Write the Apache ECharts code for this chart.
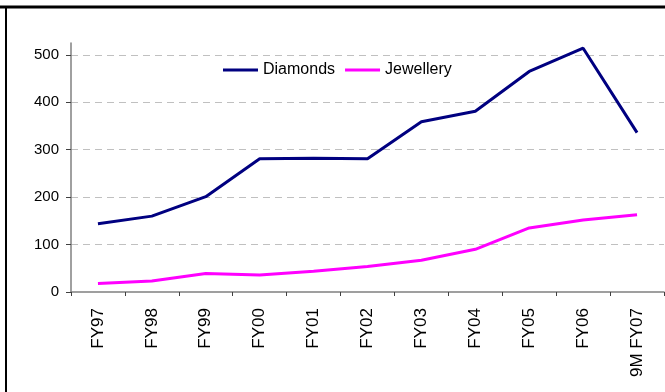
<!DOCTYPE html>
<html>
<head>
<meta charset="utf-8">
<script src="https://cdn.jsdelivr.net/npm/echarts@6/dist/echarts.min.js"></script>
<style>html,body{margin:0;padding:0;background:#fff}#c{width:665px;height:392px}</style>
</head>
<body>
<div id="c"></div>
<script>
var categories = ['FY97','FY98','FY99','FY00','FY01','FY02','FY03','FY04','FY05','FY06','9M FY07'];
var diamonds = [144, 160, 201, 281, 282, 281, 359, 381, 465, 514, 336];
var jewellery = [18, 23, 39, 36, 44, 54, 67, 90, 135, 152, 163];
var yTicks = [0, 100, 200, 300, 400, 500];

var chart = echarts.init(document.getElementById('c'), null, {renderer: 'canvas'});
var font = 'Liberation Sans, Arial, sans-serif';
chart.setOption({
  animation: false,
  backgroundColor: '#fff',
  textStyle: {fontFamily: font},
  grid: {left: 71, right: 1, top: 43, bottom: 100, containLabel: false},
  legend: {
    left: 218, top: 57,
    icon: 'rect',
    itemWidth: 35, itemHeight: 3, itemGap: 10,
    textStyle: {fontSize: 16, color: '#000', fontFamily: font},
    data: ['Diamonds', 'Jewellery']
  },
  xAxis: {
    type: 'category',
    data: categories,
    boundaryGap: true,
    axisLine: {lineStyle: {color: '#808080', width: 1.5}},
    axisTick: {show: true, length: 4, lineStyle: {color: '#404040'}},
    axisLabel: {rotate: 90, margin: 16, fontSize: 17, color: '#000', fontFamily: font, interval: 0},
    splitLine: {show: false}
  },
  yAxis: {
    type: 'value',
    min: 0, max: 525, interval: 100,
    axisLine: {show: true, lineStyle: {color: '#808080', width: 1.5}},
    axisTick: {show: true, length: 5, lineStyle: {color: '#404040'}, customValues: yTicks},
    axisLabel: {margin: 12, fontSize: 15, color: '#000', fontFamily: font, customValues: yTicks},
    splitLine: {show: true, showMinLine: false, lineStyle: {color: '#c0c0c0', type: [7, 5], width: 1}}
  },
  series: [
    {name: 'Diamonds', type: 'line', data: diamonds, symbol: 'none', lineStyle: {color: '#000080', width: 3}, itemStyle: {color: '#000080'}},
    {name: 'Jewellery', type: 'line', data: jewellery, symbol: 'none', lineStyle: {color: '#ff00ff', width: 3}, itemStyle: {color: '#ff00ff'}}
  ],
  graphic: [
    {type: 'rect', shape: {x: 0, y: 5.5, width: 665, height: 3}, style: {fill: '#000'}, silent: true},
    {type: 'rect', shape: {x: 5, y: 7, width: 2, height: 385}, style: {fill: '#000'}, silent: true}
  ]
});
</script>
</body>
</html>
